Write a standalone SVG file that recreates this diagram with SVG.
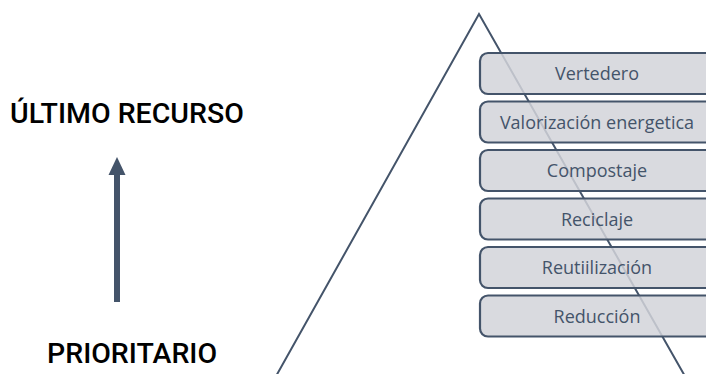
<svg xmlns="http://www.w3.org/2000/svg" width="706" height="374" viewBox="0 0 706 374">
<style>
.box{fill:#d2d4d9;fill-opacity:0.85;stroke:#44546a;stroke-width:2.2}
.lbl{font-family:"Open Sans","Noto Sans",sans-serif;font-size:18px;fill:#44546a;text-anchor:middle}
.big{font-family:Roboto,"Liberation Sans",sans-serif;font-weight:500;font-size:28.5px;fill:#000}
</style>
<rect width="706" height="374" fill="#fff"/>
<g id="connectors">
<polyline id="pyramid" points="275,378 479,14 686,378" fill="none" stroke="#44546a" stroke-width="2"/>
<line x1="117" y1="302" x2="117" y2="172" stroke="#44546a" stroke-width="6"/>
<polygon points="117,157 108.5,175 125.5,175" fill="#44546a"/>
</g>
<g id="n1"><rect class="box" x="480" y="53" width="236" height="41" rx="8"/><text class="lbl" x="597" y="80">Vertedero</text></g>
<g id="n2"><rect class="box" x="480" y="101.5" width="236" height="41" rx="8"/><text class="lbl" x="597" y="128.5">Valorización energetica</text></g>
<g id="n3"><rect class="box" x="480" y="150" width="236" height="41" rx="8"/><text class="lbl" x="597" y="177">Compostaje</text></g>
<g id="n4"><rect class="box" x="480" y="198.5" width="236" height="41" rx="8"/><text class="lbl" x="597" y="225.5">Reciclaje</text></g>
<g id="n5"><rect class="box" x="480" y="247" width="236" height="41" rx="8"/><text class="lbl" x="597" y="274">Reutiilización</text></g>
<g id="n6"><rect class="box" x="480" y="295.5" width="236" height="41" rx="8"/><text class="lbl" x="597" y="322.5">Reducción</text></g>
<g id="top-label"><text class="big" x="10" y="123">ÚLTIMO RECURSO</text></g>
<g id="bottom-label"><text class="big" x="47" y="363">PRIORITARIO</text></g>
</svg>
